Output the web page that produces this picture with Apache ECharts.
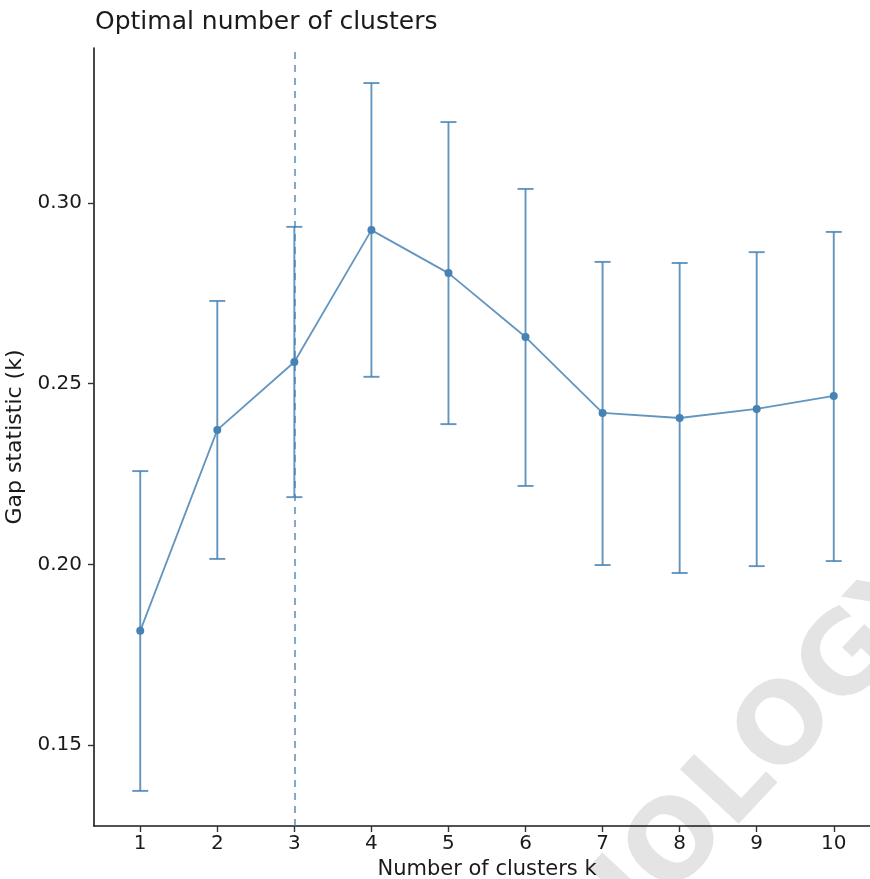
<!DOCTYPE html>
<html>
<head>
<meta charset="utf-8">
<script src="https://cdn.jsdelivr.net/npm/echarts@6/dist/echarts.min.js"></script>
<style>html,body{margin:0;padding:0;background:#fff}#c{width:870px;height:879px}</style>
</head>
<body>
<div id="c"></div>
<script>
var clusters = [1, 2, 3, 4, 5, 6, 7, 8, 9, 10];
var gap = [0.1816, 0.2372, 0.2560, 0.2925, 0.2806, 0.2629, 0.2419, 0.2405, 0.2430, 0.2466];
var upper = [0.2258, 0.2729, 0.2934, 0.3332, 0.3224, 0.3039, 0.2837, 0.2834, 0.2864, 0.2920];
var lower = [0.1373, 0.2015, 0.2186, 0.2519, 0.2388, 0.2217, 0.1998, 0.1976, 0.1995, 0.2009];
var yTicks = [0.15, 0.20, 0.25, 0.30];
var optimalK = 3;

var color = '#4682B4';
var font = 'DejaVu Sans';
var chart = echarts.init(document.getElementById('c'));

var errData = clusters.map(function (k, i) { return [k, lower[i], upper[i]]; });
var lineData = clusters.map(function (k, i) { return [k, gap[i]]; });

chart.setOption({
  animation: false,
  backgroundColor: '#fff',
  title: {
    text: 'Optimal number of clusters',
    left: 90, top: 5,
    textStyle: { fontFamily: font, fontSize: 25, fontWeight: 'normal', color: '#1a1a1a' }
  },
  graphic: [{
    type: 'text', x: 748, y: 772, rotation: 47 * Math.PI / 180, z: -10, silent: true,
    style: { text: 'BIOLOGY', font: 'bold 110px "DejaVu Sans"', fill: '#e4e4e4', align: 'center', verticalAlign: 'middle' }
  }],
  grid: { left: 94, right: -10, top: 48, bottom: 53, containLabel: false, outerBoundsMode: 'none' },
  xAxis: {
    type: 'value', min: 0.4, max: 10.6,
    name: 'Number of clusters k', nameLocation: 'middle', nameGap: 31,
    nameTextStyle: { fontFamily: font, fontSize: 21, color: '#1a1a1a' },
    axisLine: { show: true, onZero: false, lineStyle: { color: '#1a1a1a', width: 1.6 } },
    axisTick: { show: true, length: 6, customValues: clusters, lineStyle: { color: '#333', width: 1.4 } },
    axisLabel: { customValues: clusters, fontFamily: font, fontSize: 20, color: '#1a1a1a', margin: 8 },
    splitLine: { show: false }
  },
  yAxis: {
    type: 'value', min: 0.12758, max: 0.3429,
    name: 'Gap statistic (k)', nameLocation: 'middle', nameGap: 57, nameRotate: 90,
    nameTextStyle: { fontFamily: font, fontSize: 22, color: '#1a1a1a' },
    axisLine: { show: true, onZero: false, lineStyle: { color: '#1a1a1a', width: 1.6 } },
    axisTick: { show: true, length: 6, customValues: yTicks, lineStyle: { color: '#333', width: 1.4 } },
    axisLabel: { customValues: yTicks, fontFamily: font, fontSize: 20, color: '#1a1a1a', margin: 12,
      formatter: function (v) { return v.toFixed(2); } },
    splitLine: { show: false }
  },
  series: [
    {
      type: 'custom',
      data: errData,
      z: 3,
      renderItem: function (params, api) {
        var x = api.value(0);
        var lo = api.coord([x, api.value(1)]);
        var hi = api.coord([x, api.value(2)]);
        var hw = 8;
        var st = { stroke: color, lineWidth: 1.9, opacity: 0.85 };
        return {
          type: 'group',
          children: [
            { type: 'line', shape: { x1: lo[0], y1: lo[1], x2: hi[0], y2: hi[1] }, style: st },
            { type: 'line', shape: { x1: lo[0] - hw, y1: lo[1], x2: lo[0] + hw, y2: lo[1] }, style: st },
            { type: 'line', shape: { x1: hi[0] - hw, y1: hi[1], x2: hi[0] + hw, y2: hi[1] }, style: st }
          ]
        };
      }
    },
    {
      type: 'line',
      data: lineData,
      z: 4,
      symbol: 'circle', symbolSize: 8,
      itemStyle: { color: color },
      lineStyle: { color: color, width: 1.8, opacity: 0.85 },
      markLine: {
        silent: true, symbol: 'none', label: { show: false },
        lineStyle: { color: color, type: [7, 6], width: 1.6, opacity: 0.85 },
        data: [{ xAxis: optimalK }]
      }
    }
  ]
});
</script>
</body>
</html>
